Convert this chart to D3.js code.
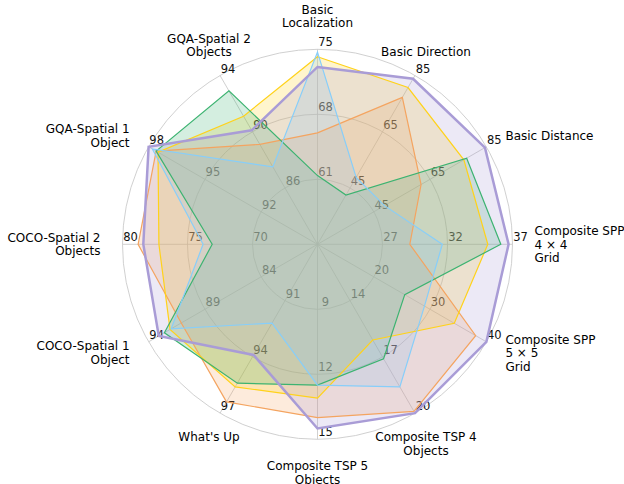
<!DOCTYPE html>
<html>
<head>
<meta charset="utf-8">
<script src="https://cdn.jsdelivr.net/npm/d3@7"></script>
<style>
  body { margin: 0; background: #fff; }
  svg text { font-family: "DejaVu Sans", sans-serif; }
</style>
</head>
<body>
<div id="chart"></div>
<script>
// axis names (line breaks as in the figure)
var categories = ["Basic\nLocalization", "Basic Direction", "Basic Distance",
    "Composite SPP\n4 \u00d7 4\nGrid", "Composite SPP\n5 \u00d7 5\nGrid",
    "Composite TSP 4\nObjects", "Composite TSP 5\nObjects", "What's Up",
    "COCO-Spatial 1\nObject", "COCO-Spatial 2\nObjects",
    "GQA-Spatial 1\nObject", "GQA-Spatial 2\nObjects"];

// each axis has its own range
var axisMin = [54, 25, 25, 22, 10, 11, 6, 88, 79, 65, 89, 82];
var axisMax = [75, 85, 85, 37, 40, 20, 15, 97, 94, 80, 98, 94];
var tickLabels = [[61, 68, 75], [45, 65, 85], [45, 65, 85], [27, 32, 37], [20, 30, 40], [14, 17, 20],
    [9, 12, 15], [91, 94, 97], [84, 89, 94], [70, 75, 80], [92, 95, 98], [86, 90, 94]];

// series values, one per axis
var seriesOrange = [66.0, 77.2, 61.8, 29.1, 38.1, 19.9, 14.0, 96.4, 91.1, 78.8, 97.6, 89.1];
var seriesGold   = [74.2, 80.7, 77.0, 35.1, 34.3, 16.1, 13.1, 95.6, 92.1, 77.2, 97.5, 91.1];
var seriesGreen  = [61.4, 42.5, 78.0, 36.1, 25.5, 17.1, 12.5, 95.4, 92.6, 73.1, 97.6, 92.9];
var seriesBlue   = [74.7, 48.8, 48.8, 31.6, 29.0, 18.6, 12.5, 92.2, 92.0, 73.8, 97.8, 87.5];
var seriesPurple = [73.1, 83.8, 84.5, 36.7, 40.0, 20.0, 14.5, 93.9, 93.1, 78.4, 98.0, 90.1];

var width = 624, height = 484;
var cx = 317.5, cy = 244.3, R = 195;
var n = categories.length;

var svg = d3.select("#chart").append("svg")
    .attr("width", width).attr("height", height);
var g = svg.append("g").attr("transform", "translate(" + cx + "," + cy + ")");

var angle = d3.scaleLinear().domain([0, n]).range([0, 2 * Math.PI]);
var rScales = axisMin.map(function(m, i) {
    return d3.scaleLinear().domain([m, axisMax[i]]).range([0, R]);
});

//grid circles at the three tick levels
g.selectAll("circle.grid")
    .data([1, 2, 3])
    .enter().append("circle")
    .attr("r", function(d) { return R * d / 3; })
    .attr("fill", "none")
    .attr("stroke", "#c4c4c4")
    .attr("stroke-width", 0.8);

//spokes
g.selectAll("line.spoke")
    .data(categories)
    .enter().append("line")
    .attr("x1", 0).attr("y1", 0)
    .attr("x2", function(d, i) { return R * Math.sin(angle(i)); })
    .attr("y2", function(d, i) { return -R * Math.cos(angle(i)); })
    .attr("stroke", "#c4c4c4")
    .attr("stroke-width", 0.8);

//tick labels go under the fills
tickLabels.forEach(function(ticks, i) {
    var a = angle(i);
    g.selectAll(null)
        .data(ticks)
        .enter().append("text")
        .attr("x", function(t) { return rScales[i](t) * Math.sin(a) + 8; })
        .attr("y", function(t) { return -rScales[i](t) * Math.cos(a) - 7; })
        .attr("dy", "0.36em")
        .attr("text-anchor", "middle")
        .attr("font-size", 11.5)
        .attr("fill", "#111")
        .text(function(t) { return t; });
});

//category labels
var pad = 22, lineH = 13.6;
categories.forEach(function(name, i) {
    var a = angle(i);
    var s = Math.sin(a), c = Math.cos(a);
    var px = (R + pad) * s, py = -(R + pad) * c;
    var lines = name.split("\n");
    var anchor = s > 0.6 ? "start" : (s < -0.6 ? "end" : "middle");
    var firstBase;
    if (c > 0.6) firstBase = py - (lines.length - 1) * lineH;
    else if (c < -0.6) firstBase = py + 8.8;
    else firstBase = py - (lines.length - 1) * lineH / 2 + 4.4;
    var t = g.append("text")
        .attr("text-anchor", anchor)
        .attr("font-size", 12)
        .attr("fill", "#000");
    lines.forEach(function(l, k) {
        t.append("tspan").attr("x", px).attr("y", firstBase + k * lineH).text(l);
    });
});

var series = [
    {values: seriesOrange, color: "#f4a460", width: 1.2},
    {values: seriesGold, color: "#ffd21a", width: 1.2},
    {values: seriesGreen, color: "#3cb371", width: 1.2},
    {values: seriesBlue, color: "#87cefa", width: 1.2},
    {values: seriesPurple, color: "#a99cd6", width: 2.5}
];

var radar = d3.lineRadial()
    .angle(function(d, i) { return angle(i); })
    .radius(function(d, i) { return rScales[i](d); })
    .curve(d3.curveLinearClosed);

g.selectAll("path.fill")
    .data(series)
    .enter().append("path")
    .attr("d", function(d) { return radar(d.values); })
    .attr("fill", function(d) { return d.color; })
    .attr("fill-opacity", 0.22)
    .attr("stroke", "none");

g.selectAll("path.line")
    .data(series)
    .enter().append("path")
    .attr("d", function(d) { return radar(d.values); })
    .attr("fill", "none")
    .attr("stroke", function(d) { return d.color; })
    .attr("stroke-width", function(d) { return d.width; })
    .attr("stroke-linejoin", "miter");
</script>
</body>
</html>
